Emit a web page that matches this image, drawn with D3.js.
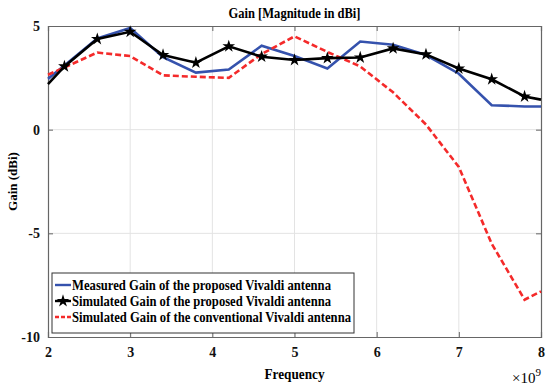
<!DOCTYPE html>
<head>
    <meta charset="utf-8">
    <style>
        body { margin: 0; background: #fff; }
        svg { font-family: "Liberation Serif", "Times New Roman", serif; font-weight: bold; }
        .grid line { stroke: #e3e3e3; stroke-width: 1; }
    </style>
</head>
<body>
    <script src="https://d3js.org/d3.v7.min.js"></script>
    <script>
        // frequency in units of 1e9 Hz
        var freq = [2.0, 2.2, 2.6, 3.0, 3.4, 3.8, 4.2, 4.6, 5.0, 5.4, 5.8, 6.2, 6.6, 7.0, 7.4, 7.8, 8.0];
        var measured = [2.45, 3.1, 4.4, 4.9, 3.5, 2.75, 2.9, 4.05, 3.55, 2.95, 4.25, 4.1, 3.6, 2.7, 1.18, 1.12, 1.12];
        var simProposed = [2.2, 3.05, 4.37, 4.72, 3.6, 3.23, 4.02, 3.52, 3.36, 3.45, 3.48, 3.92, 3.63, 2.95, 2.43, 1.6, 1.45];
        var simConventional = [2.65, 3.0, 3.72, 3.55, 2.62, 2.55, 2.5, 3.65, 4.5, 3.75, 3.05, 1.8, 0.25, -1.8, -5.5, -8.2, -7.8];
        var xTicks = [2, 3, 4, 5, 6, 7, 8];
        var yTicks = [-10, -5, 0, 5];
        var legendNames = [
            'Measured Gain of the proposed Vivaldi antenna',
            'Simulated Gain of the proposed Vivaldi antenna',
            'Simulated Gain of the conventional Vivaldi antenna'
        ];

        var W = 546, H = 387;
        var m = { left: 48, right: 5, top: 26, bottom: 50 };
        var pw = W - m.left - m.right, ph = H - m.top - m.bottom;

        var svg = d3.select('body').append('svg')
                    .attr('width', W)
                    .attr('height', H);

        var x = d3.scaleLinear().domain([2, 8]).range([m.left, m.left + pw]);
        var y = d3.scaleLinear().domain([-10, 5]).range([m.top + ph, m.top]);

        // grid
        var grid = svg.append('g').attr('class', 'grid');
        grid.selectAll('.vx').data(xTicks.slice(1, -1)).enter().append('line')
            .attr('x1', d => x(d)).attr('x2', d => x(d))
            .attr('y1', m.top).attr('y2', m.top + ph);
        grid.selectAll('.hy').data(yTicks.slice(1, -1)).enter().append('line')
            .attr('x1', m.left).attr('x2', m.left + pw)
            .attr('y1', d => y(d)).attr('y2', d => y(d));

        // axes (MATLAB box with inward ticks)
        var axColor = '#666';
        var fmt = d => String(d);
        var axBottom = svg.append('g').attr('transform', 'translate(0,' + (m.top + ph) + ')')
            .call(d3.axisBottom(x).tickValues(xTicks).tickSize(-5).tickPadding(10).tickFormat(fmt));
        var axTop = svg.append('g').attr('transform', 'translate(0,' + m.top + ')')
            .call(d3.axisTop(x).tickValues(xTicks).tickSize(-5).tickFormat(''));
        var axLeft = svg.append('g').attr('transform', 'translate(' + m.left + ',0)')
            .call(d3.axisLeft(y).tickValues(yTicks).tickSize(-5).tickPadding(8).tickFormat(fmt));
        var axRight = svg.append('g').attr('transform', 'translate(' + (m.left + pw) + ',0)')
            .call(d3.axisRight(y).tickValues(yTicks).tickSize(-5).tickFormat(''));
        [axBottom, axTop, axLeft, axRight].forEach(function(g) {
            g.selectAll('path').attr('stroke', axColor).attr('stroke-width', 1.2);
            g.selectAll('line').attr('stroke', axColor);
            g.selectAll('text').attr('fill', '#111')
             .style('font-family', '"Liberation Serif", serif')
             .style('font-weight', 'bold').style('font-size', '14px');
        });

        // lines
        var line = function(vals) {
            return d3.line().x((d, i) => x(freq[i])).y(d => y(d))(vals);
        };
        svg.append('path').attr('d', line(measured))
           .attr('fill', 'none').attr('stroke', '#3552ad').attr('stroke-width', 2.6);
        svg.append('path').attr('d', line(simConventional))
           .attr('fill', 'none').attr('stroke', '#f42a2a').attr('stroke-width', 2.6)
           .attr('stroke-dasharray', '6,3');
        svg.append('path').attr('d', line(simProposed))
           .attr('fill', 'none').attr('stroke', '#000').attr('stroke-width', 2.6);

        var star = d3.symbol().type(d3.symbolStar).size(50);
        svg.selectAll('.star').data(simProposed.slice(1, -1)).enter().append('path')
           .attr('d', star)
           .attr('transform', (d, i) => 'translate(' + x(freq[i + 1]) + ',' + y(d) + ')')
           .attr('fill', '#000');

        // title and labels
        svg.append('text').attr('x', m.left + pw / 2).attr('y', 18)
           .attr('text-anchor', 'middle').style('font-size', '15px')
           .attr('textLength', 132).attr('lengthAdjust', 'spacingAndGlyphs')
           .text('Gain [Magnitude in dBi]');
        svg.append('text').attr('x', m.left + pw / 2).attr('y', 379)
           .attr('text-anchor', 'middle').style('font-size', '15px')
           .attr('textLength', 60).attr('lengthAdjust', 'spacingAndGlyphs')
           .text('Frequency');
        svg.append('text')
           .attr('transform', 'translate(17,' + (m.top + ph / 2) + ') rotate(-90)')
           .attr('text-anchor', 'middle').style('font-size', '13px')
           .text('Gain (dBi)');
        var ex = svg.append('text').attr('x', 512).attr('y', 383).style('font-size', '15px').style('font-weight', 'normal');
        ex.append('tspan').text('\u00d710');
        ex.append('tspan').attr('dy', -7).style('font-size', '11px').text('9');

        // legend
        var lg = svg.append('g');
        lg.append('rect').attr('x', 52).attr('y', 273).attr('width', 302).attr('height', 60)
          .attr('fill', '#fff').attr('stroke', '#333').attr('stroke-width', 1);
        var rows = [285, 301, 317];
        var colors = ['#3552ad', '#000', '#f42a2a'];
        rows.forEach(function(ry, i) {
            var l = lg.append('line').attr('x1', 55).attr('x2', 71).attr('y1', ry).attr('y2', ry)
              .attr('stroke', colors[i]).attr('stroke-width', 2.4);
            if (i === 2) l.attr('stroke-dasharray', '4,2');
            if (i === 1) lg.append('path').attr('d', star).attr('transform', 'translate(63,' + ry + ')');
            lg.append('text').attr('x', 72).attr('y', ry + 5).style('font-size', '14.5px')
              .attr('textLength', i === 2 ? 279 : 259).attr('lengthAdjust', 'spacingAndGlyphs')
              .text(legendNames[i]);
        });
    </script>
</body>
